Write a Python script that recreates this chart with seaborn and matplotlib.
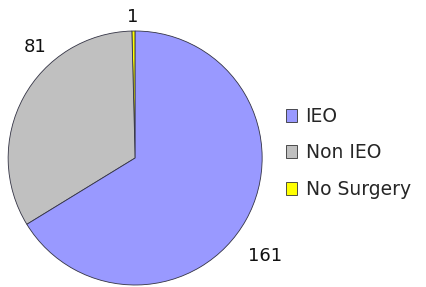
import matplotlib
matplotlib.use("Agg")
import matplotlib.pyplot as plt
import seaborn as sns
import numpy as np
from matplotlib.patches import Patch

# data
categories = ["IEO", "Non IEO", "No Surgery"]
counts = [161, 81, 1]
slice_colors = ["#9999FF", "#C0C0C0", "#FFFF00"]

sns.set_style("white")
plt.rcParams["font.family"] = ["DejaVu Sans"]

fig = plt.figure(figsize=(4.27, 2.87), dpi=100)
ax = fig.add_axes([0.019, 0.007, 0.595, 0.885])

# counter-clockwise order from the top: No Surgery, Non IEO, IEO
order = [2, 1, 0]
wedges, texts = ax.pie(
    [counts[i] for i in order],
    labels=[str(counts[i]) for i in order],
    colors=[slice_colors[i] for i in order],
    startangle=90,
    counterclock=True,
    labeldistance=1.2,
    wedgeprops=dict(edgecolor="#333344", linewidth=0.6),
    textprops=dict(fontsize=13, color="#111111"),
)
# label placement (angle in degrees, radius) like the original chart
label_spots = [(91, 1.11), (132, 1.18), (-37, 1.28)]
for t, (ang, r) in zip(texts, label_spots):
    a = np.deg2rad(ang)
    t.set_position((r * np.cos(a), r * np.sin(a)))
    t.set_ha("center")
    t.set_va("center")
    t.set_clip_on(False)
ax.set_xlim(-1, 1)
ax.set_ylim(-1, 1)
ax.set_aspect("equal")

handles = [Patch(facecolor=c, edgecolor="#333333", linewidth=0.6) for c in slice_colors]
fig.legend(handles, categories, loc="center left", bbox_to_anchor=(0.63, 0.467),
           frameon=False, fontsize=13.5, handlelength=0.6, handleheight=0.7,
           handletextpad=0.45, labelspacing=0.95)

fig.savefig("out.png", dpi=100)
